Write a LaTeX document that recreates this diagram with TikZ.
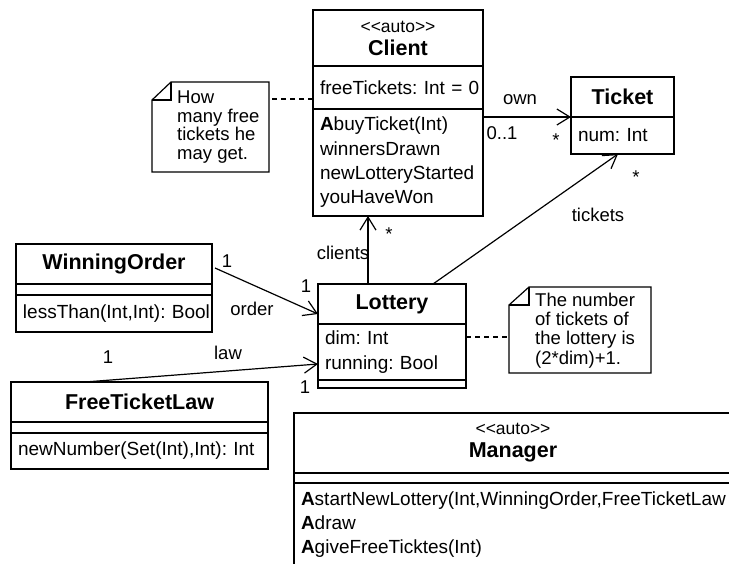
\documentclass[tikz,border=0pt]{standalone}
\usepackage{fontspec}
\setmainfont{Liberation Sans}[Ligatures=TeXOff]
\usetikzlibrary{arrows.meta,positioning}

\newcommand\bodyfont{\fontsize{19}{24.3}\selectfont\frenchspacing}
\newcommand\stereofont{\fontsize{17.5}{23}\selectfont\mdseries}
\newcommand\lblfont{\fontsize{18.5}{20}\selectfont}

\tikzset{
  part/.style={draw, line width=1.2pt, outer sep=0pt, inner xsep=7pt, inner ysep=0pt,
    align=left, font=\bodyfont},
  namepart/.style={part, align=center, font=\fontsize{21.5}{23}\selectfont\bfseries},
  assoc/.style={line width=1.2pt, -{Straight Barb[length=13pt,width=16pt]}},
  plain/.style={line width=1.2pt},
  noteline/.style={line width=1.2pt, dash pattern=on 5pt off 4pt},
  notebox/.style={inner sep=0pt, outer sep=0pt, anchor=north west},
  notetext/.style={inner sep=0pt, anchor=north west, align=left},
  lbl/.style={anchor=base, inner sep=0pt, font=\lblfont},
}

\begin{document}
\begin{tikzpicture}[x=1pt, y=-1pt]
    \useasboundingbox (0,0) rectangle (729,563);

    % Client
    \node[namepart, anchor=north west, minimum width=170pt, text width=156pt, minimum height=56pt]
      (clientname) at (313,10) {{\stereofont <<auto>>}\\Client};
    \node[part, below=0pt of clientname, text width=156pt, minimum height=43pt]
      (clientattr) {freeTickets:~Int~=~0};
    \node[part, below=0pt of clientattr, text width=156pt, minimum height=107pt]
      (clientops) {\textbf{A}buyTicket(Int)\\winnersDrawn\\newLotteryStarted\\youHaveWon};

    % Ticket
    \node[namepart, anchor=north west, text width=89pt, minimum height=40pt]
      (ticketname) at (571,77) {Ticket};
    \node[part, below=0pt of ticketname, text width=89pt, minimum height=37pt]
      (ticketattr) {num:~Int};

    % WinningOrder
    \node[namepart, anchor=north west, text width=182pt, minimum height=40pt]
      (woname) at (16,244) {WinningOrder};
    \node[part, below=0pt of woname, text width=182pt, minimum height=11pt] (woattr) {};
    \node[part, below=0pt of woattr, text width=182pt, minimum height=37pt]
      (woops) {lessThan(Int,Int):~Bool};

    % Lottery
    \node[namepart, anchor=north west, text width=134pt, minimum height=40pt]
      (lotteryname) at (318,284) {Lottery};
    \node[part, below=0pt of lotteryname, text width=134pt, minimum height=56pt]
      (lotteryattr) {dim:~Int\\running:~Bool};
    \node[part, below=0pt of lotteryattr, text width=134pt, minimum height=8pt] (lotteryops) {};

    % FreeTicketLaw
    \node[namepart, anchor=north west, text width=243pt, minimum height=40pt]
      (ftlname) at (11,382) {FreeTicketLaw};
    \node[part, below=0pt of ftlname, text width=243pt, minimum height=11pt] (ftlattr) {};
    \node[part, below=0pt of ftlattr, text width=243pt, minimum height=36pt]
      (ftlops) {newNumber(Set(Int),Int):~Int};

    % Manager (runs past the right edge)
    \node[namepart, anchor=north west, text width=424pt, minimum height=60pt]
      (managername) at (294,413) {{\stereofont <<auto>>}\\Manager};
    \node[part, below=0pt of managername, text width=424pt, minimum height=10pt] (managerattr) {};
    \node[part, below=0pt of managerattr, text width=424pt, minimum height=83pt]
      (managerops) {\textbf{A}startNewLottery(Int,WinningOrder,FreeTicketLaw\\\textbf{A}draw\\\textbf{A}giveFreeTicktes(Int)};

    % notes
    \node[notebox, minimum width=117pt, minimum height=90pt] (clientnote) at (152,82) {};
    \draw[plain] ([xshift=19pt]clientnote.north west) -- (clientnote.north east)
      -- (clientnote.south east) -- (clientnote.south west)
      -- ([yshift=-18pt]clientnote.north west) -- cycle;
    \draw[plain] ([xshift=19pt]clientnote.north west) |- ([yshift=-18pt]clientnote.north west);
    \node[notetext, font=\fontsize{18.5}{18.6}\selectfont] (clientnotetext)
      at ([xshift=25pt, yshift=-8.5pt]clientnote.north west) {How\\many free\\tickets he\\may get.};

    \node[notebox, minimum width=142pt, minimum height=86pt] (lotterynote) at (509,287) {};
    \draw[plain] ([xshift=20pt]lotterynote.north west) -- (lotterynote.north east)
      -- (lotterynote.south east) -- (lotterynote.south west)
      -- ([yshift=-18pt]lotterynote.north west) -- cycle;
    \draw[plain] ([xshift=20pt]lotterynote.north west) |- ([yshift=-18pt]lotterynote.north west);
    \node[notetext, font=\fontsize{18.5}{19.3}\selectfont] (lotterynotetext)
      at ([xshift=26pt, yshift=-5.7pt]lotterynote.north west) {The number\\of tickets of\\the lottery is\\(2*dim)+1.};

    \draw[noteline] ([yshift=-11.5pt]clientattr.west) coordinate (cn) -- (cn -| clientnote.east);
    \draw[noteline] ([yshift=15pt]lotteryattr.east) coordinate (ln) -- (ln -| lotterynote.west);

    % associations
    \draw[assoc] (ticketname.south west -| clientops.east) -- (ticketname.south west);
    \draw[assoc] ([xshift=50pt]lotteryname.north west) coordinate (cl) -- (cl |- clientops.south);
    \draw[assoc] ([xshift=115pt]lotteryname.north west) -- ([xshift=47pt]ticketattr.south west);
    \draw[assoc] ([xshift=3pt, yshift=-4pt]woname.east) -- ([yshift=10pt]lotteryname.south west);
    \draw[assoc] ([xshift=74pt]ftlname.north west) -- ([yshift=-12pt]lotteryattr.west);

    % association labels
    \node[lbl] (ownlbl) at (520,104) {own};
    \node[lbl] (ownsrc) at (502,139) {0..1};
    \node[lbl] (owndst) at (556,146) {*};
    \node[lbl] (ticketsdst) at (636,183) {*};
    \node[lbl] (ticketslbl) at (598,221) {tickets};
    \node[lbl] (clientslbl) at (343,259) {clients};
    \node[lbl] (clientsdst) at (389,240) {*};
    \node[lbl] (ordersrc) at (227,267) {1};
    \node[lbl] (orderdst) at (306,292) {1};
    \node[lbl] (orderlbl) at (252,315) {order};
    \node[lbl] (lawsrc) at (108,363) {1};
    \node[lbl] (lawlbl) at (228,359) {law};
    \node[lbl] (lawdst) at (305,393) {1};
\end{tikzpicture}
\end{document}
